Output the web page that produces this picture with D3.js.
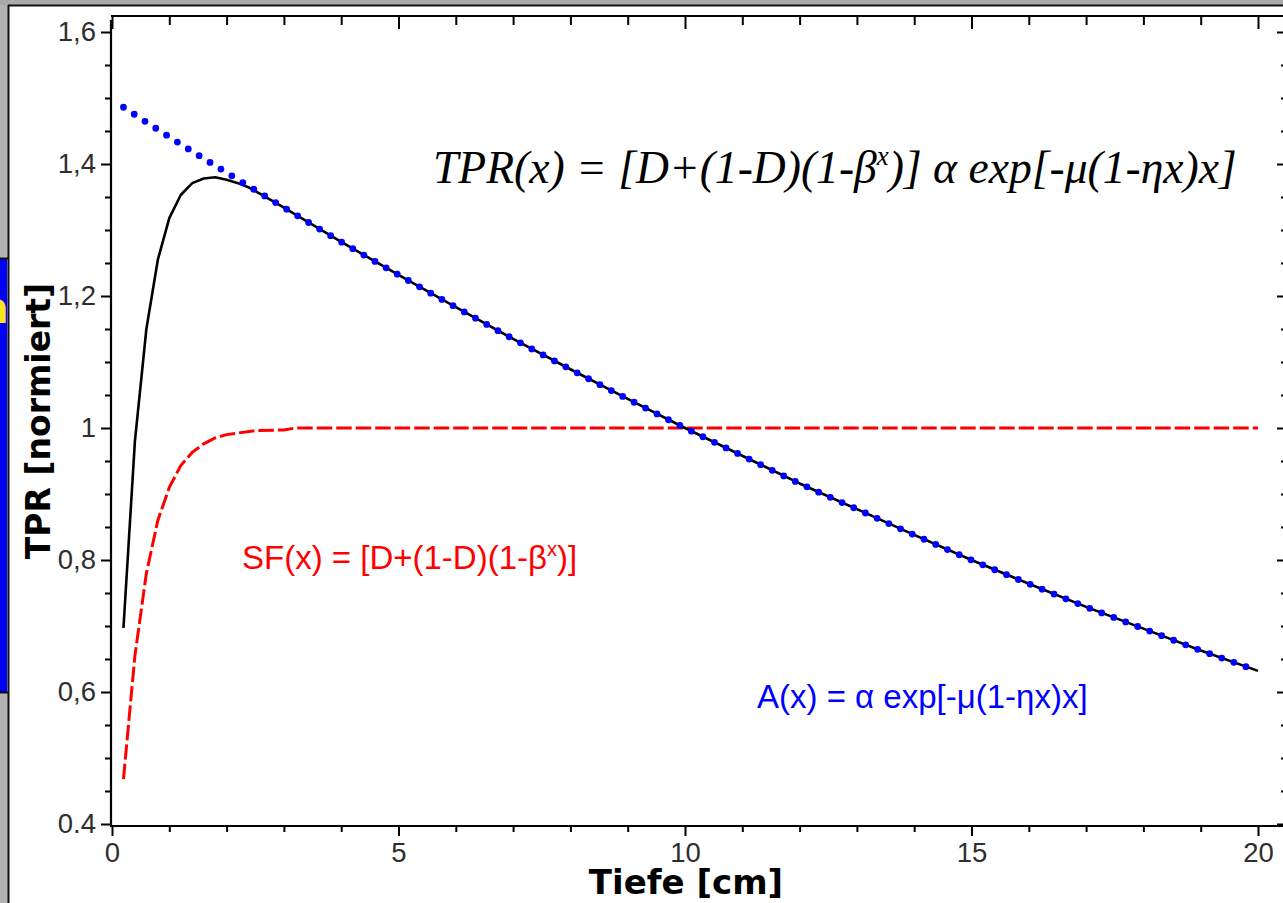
<!DOCTYPE html>
<html>
<head>
<meta charset="utf-8">
<script src="https://cdn.jsdelivr.net/npm/d3@7"></script>
<style>
  html, body { margin: 0; padding: 0; background: #fff; overflow: hidden; }
  svg { display: block; }
</style>
</head>
<body>
<svg id="chart" width="1283" height="903"></svg>
<script>
// Tissue-phantom ratio (TPR) vs. depth, with its two factors:
// scatter/build-up factor SF(x) and attenuation A(x).
const depthTPR = [0.2, 0.4, 0.6, 0.8, 1.0, 1.2, 1.4, 1.6, 1.8, 2.0, 2.2, 2.4, 2.6, 2.8, 3.0,
                  4, 5, 6, 7, 8, 9, 10, 11, 12, 13, 14, 15, 16, 17, 18, 19, 20];
const valuesTPR = [0.697, 0.98, 1.15, 1.255, 1.318, 1.353, 1.371, 1.378, 1.38, 1.376, 1.371, 1.364, 1.354, 1.344, 1.334,
                   1.282, 1.232, 1.183, 1.135, 1.089, 1.044, 1.0, 0.958, 0.916, 0.877, 0.838, 0.80, 0.764, 0.729, 0.696, 0.663, 0.632];

const depthSF = [0.2, 0.4, 0.6, 0.8, 1.0, 1.2, 1.4, 1.6, 1.8, 2.0, 2.5, 3.0, 3.2,
                 4, 5, 6, 7, 8, 9, 10, 11, 12, 13, 14, 15, 16, 17, 18, 19, 20];
const valuesSF = [0.468, 0.655, 0.78, 0.86, 0.91, 0.943, 0.963, 0.976, 0.985, 0.99, 0.996, 0.997, 1.0,
                  1.0, 1.0, 1.0, 1.0, 1.0, 1.0, 1.0, 1.0, 1.0, 1.0, 1.0, 1.0, 1.0, 1.0, 1.0, 1.0, 1.0];

const depthA = [0.2, 1, 2, 3, 4, 5, 6, 7, 8, 9, 10, 11, 12, 13, 14, 15, 16, 17, 18, 19, 20];
const valuesA = [1.486, 1.441, 1.387, 1.334, 1.282, 1.232, 1.183, 1.135, 1.089, 1.044, 1.0,
                 0.958, 0.916, 0.877, 0.838, 0.80, 0.764, 0.729, 0.696, 0.663, 0.632];

const xMajorTicks = [0, 5, 10, 15, 20];
const xTickLabels = ["0", "5", "10", "15", "20"];
const yMajorTicks = [0.4, 0.6, 0.8, 1.0, 1.2, 1.4, 1.6];
const yTickLabels = ["0.4", "0,6", "0,8", "1", "1,2", "1,4", "1,6"];

const svg = d3.select("#chart");
const W = 1283, H = 903;

// plot box
const box = { left: 111, right: 1284, top: 16, bottom: 826 };

const x = d3.scaleLinear().domain([0, 20]).range([112, 1258]);
const y = d3.scaleLinear().domain([0.4, 1.6]).range([824, 32]);

const xMinorTicks = d3.range(0, 21).filter(v => v % 5 !== 0);
const yMinorTicks = d3.range(0.45, 1.6, 0.05).map(v => +v.toFixed(2))
  .filter(v => Math.abs(v * 10 - Math.round(v * 10)) > 1e-6 || Math.round(v * 10) % 2 === 1);

// ---------- surrounding slide frame ----------
svg.append("rect").attr("x", 0).attr("y", 0).attr("width", W).attr("height", H).attr("fill", "#fff");
svg.append("rect").attr("x", 0).attr("y", 0).attr("width", 8).attr("height", H).attr("fill", "#b4b4b4");
svg.append("rect").attr("x", 0).attr("y", 0).attr("width", W).attr("height", 5).attr("fill", "#aaaaaa");

// blue side panel with a clipped yellow letter
const defs = svg.append("defs");
defs.append("clipPath").attr("id", "sideClip")
  .append("rect").attr("x", 0).attr("y", 259).attr("width", 7).attr("height", 433);
svg.append("rect").attr("x", 0).attr("y", 259).attr("width", 7).attr("height", 433).attr("fill", "#0000f4");
svg.append("text").attr("clip-path", "url(#sideClip)")
  .attr("x", 9).attr("y", 323).attr("text-anchor", "end")
  .attr("font-family", "DejaVu Sans").attr("font-weight", "bold").attr("font-size", 44)
  .attr("fill", "#f6e61e").text("a");
svg.append("line").attr("x1", 0).attr("x2", 8).attr("y1", 258.5).attr("y2", 258.5).attr("stroke", "#111").attr("stroke-width", 2);
svg.append("line").attr("x1", 0).attr("x2", 8).attr("y1", 692.5).attr("y2", 692.5).attr("stroke", "#111").attr("stroke-width", 2);

svg.append("line").attr("x1", 8.5).attr("x2", 8.5).attr("y1", 5).attr("y2", H).attr("stroke", "#111").attr("stroke-width", 2);
svg.append("line").attr("x1", 8).attr("x2", W).attr("y1", 5.5).attr("y2", 5.5).attr("stroke", "#111").attr("stroke-width", 2);

// ---------- axes ----------
function styleAxis(g) {
  g.select(".domain").remove();
  g.selectAll(".tick line").attr("stroke", "#000").attr("stroke-width", 2);
  g.selectAll(".tick text")
    .attr("font-family", "'Liberation Sans', Arial, sans-serif")
    .attr("font-size", 27.5)
    .attr("fill", "#2e2e2e");
}

// left
svg.append("g").attr("transform", `translate(${box.left},0)`)
  .call(d3.axisLeft(y).tickValues(yMajorTicks).tickSize(10).tickPadding(5)
    .tickFormat((d, i) => yTickLabels[i]))
  .call(styleAxis);
svg.append("g").attr("transform", `translate(${box.left},0)`)
  .call(d3.axisLeft(y).tickValues(yMinorTicks).tickSize(6).tickFormat(""))
  .call(styleAxis);

// right (ticks pointing inward)
svg.append("g").attr("transform", `translate(${box.right},0)`)
  .call(d3.axisRight(y).tickValues(yMajorTicks).tickSize(-7).tickFormat(""))
  .call(styleAxis);
svg.append("g").attr("transform", `translate(${box.right},0)`)
  .call(d3.axisRight(y).tickValues(yMinorTicks).tickSize(-3).tickFormat(""))
  .call(styleAxis);

// bottom
svg.append("g").attr("transform", `translate(0,${box.bottom})`)
  .call(d3.axisBottom(x).tickValues(xMajorTicks).tickSize(10).tickPadding(6)
    .tickFormat((d, i) => xTickLabels[i]))
  .call(styleAxis);
svg.append("g").attr("transform", `translate(0,${box.bottom})`)
  .call(d3.axisBottom(x).tickValues(xMinorTicks).tickSize(6).tickFormat(""))
  .call(styleAxis);

// top (ticks pointing inward)
svg.append("g").attr("transform", `translate(0,${box.top})`)
  .call(d3.axisTop(x).tickValues(xMajorTicks).tickSize(-13).tickFormat(""))
  .call(styleAxis);
svg.append("g").attr("transform", `translate(0,${box.top})`)
  .call(d3.axisTop(x).tickValues(xMinorTicks).tickSize(-9).tickFormat(""))
  .call(styleAxis);

// axis lines
svg.append("line").attr("x1", box.left).attr("x2", box.left).attr("y1", 20).attr("y2", box.bottom + 1)
  .attr("stroke", "#000").attr("stroke-width", 2.2);
svg.append("line").attr("x1", box.left).attr("x2", W).attr("y1", box.bottom).attr("y2", box.bottom)
  .attr("stroke", "#000").attr("stroke-width", 2.2);
svg.append("line").attr("x1", box.left).attr("x2", W).attr("y1", box.top).attr("y2", box.top)
  .attr("stroke", "#000").attr("stroke-width", 2);

// ---------- curves ----------
const line = d3.line().x(d => x(d[0])).y(d => y(d[1]));

svg.append("path")
  .datum(d3.zip(depthSF, valuesSF))
  .attr("d", line)
  .attr("fill", "none")
  .attr("stroke", "#ff0000")
  .attr("stroke-width", 3)
  .attr("stroke-dasharray", "15.5 4");

svg.append("path")
  .datum(d3.zip(depthTPR, valuesTPR))
  .attr("d", line)
  .attr("fill", "none")
  .attr("stroke", "#000")
  .attr("stroke-width", 2.6)
  .attr("stroke-linejoin", "round");

const aPath = svg.append("path")
  .datum(d3.zip(depthA, valuesA))
  .attr("d", d3.line().x(d => x(d[0])).y(d => y(d[1])).curve(d3.curveMonotoneX))
  .attr("fill", "none")
  .attr("stroke", "#0000ff")
  .attr("stroke-width", 6.8)
  .attr("stroke-linecap", "round");
const aLen = aPath.node().getTotalLength();
aPath.attr("stroke-dasharray", `0 ${aLen / 99}`);

// ---------- annotations ----------
const f = svg.append("text")
  .attr("x", 433).attr("y", 183)
  .attr("font-family", "'Liberation Serif', 'Times New Roman', serif")
  .attr("font-style", "italic")
  .attr("font-size", 45.6)
  .attr("fill", "#000");
f.append("tspan").text("TPR(x) = [D+(1-D)(1-β");
f.append("tspan").attr("font-size", 27).attr("dy", -18).text("x");
f.append("tspan").attr("dy", 18).text(")] α exp[-μ(1-ηx)x]");

const sf = svg.append("text")
  .attr("x", 242).attr("y", 569)
  .attr("font-family", "'Liberation Sans', Arial, sans-serif")
  .attr("font-size", 33)
  .attr("fill", "#ff0000");
sf.append("tspan").text("SF(x) = [D+(1-D)(1-β");
sf.append("tspan").attr("font-size", 20).attr("dy", -13).text("x");
sf.append("tspan").attr("dy", 13).text(")]");

svg.append("text")
  .attr("x", 757).attr("y", 708)
  .attr("font-family", "'Liberation Sans', Arial, sans-serif")
  .attr("font-size", 33)
  .attr("fill", "#0000ff")
  .text("A(x) = α exp[-μ(1-ηx)x]");

// axis titles
svg.append("text")
  .attr("transform", "translate(50,421) rotate(-90)")
  .attr("text-anchor", "middle")
  .attr("font-family", "'DejaVu Sans', sans-serif")
  .attr("font-weight", "bold")
  .attr("font-size", 33)
  .attr("fill", "#000")
  .text("TPR [normiert]");

svg.append("text")
  .attr("x", 686).attr("y", 894)
  .attr("text-anchor", "middle")
  .attr("font-family", "'DejaVu Sans', sans-serif")
  .attr("font-weight", "bold")
  .attr("font-size", 34)
  .attr("fill", "#000")
  .text("Tiefe [cm]");
</script>
</body>
</html>
